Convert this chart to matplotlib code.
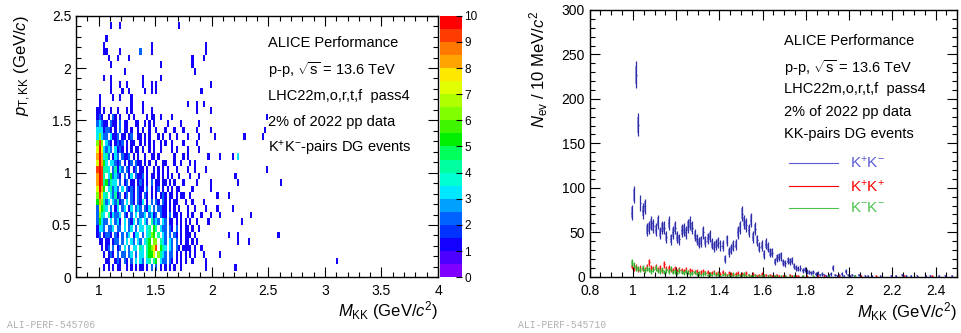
import numpy as np
import matplotlib
matplotlib.use('Agg')
import matplotlib.pyplot as plt
from matplotlib.colors import ListedColormap, BoundaryNorm
from matplotlib.ticker import MultipleLocator, FuncFormatter

plt.rcParams['font.family'] = ['Liberation Sans', 'DejaVu Sans']
plt.rcParams['mathtext.fontset'] = 'custom'
plt.rcParams['mathtext.rm'] = 'Liberation Sans'
plt.rcParams['mathtext.it'] = 'Liberation Sans:italic'
plt.rcParams['mathtext.bf'] = 'Liberation Sans:bold'

# ---- left panel: pT vs M counts, 0.02 GeV x 0.0625 GeV cells ----
# one string per pT row, top row first; columns start at M = 0.98 (groups of 10)
# '.' empty, digits = counts, 'a' = 10
pt_rows = [
    "",
    "......1... 1......... .......... ......1...",
    "",
    "....1.....",
    "...1...... .......... ....1..... .......... ........1...",
    "...11..... 1........2 ....1..... .......... ........1...",
    ".....1...1 ....1..... .......... .......... ..1....1....",
    "......1... .......... ........1. .......... ..1.........",
    ".......... ..1....... .......... .......... ...1........",
    "...1..1... .......... 1.......1.",
    "......1... 1..1...... 1...1.1... .......... ..........1.",
    "......1... .1..1..... .1..1.1... .......... ......1.....",
    ".1.....1.. 1....1....",
    ".1........ .....1.... 1......... .......... 1...1..1....",
    "11.1..1..1 ...1.1.... 1...1..... .......... ....1.....1.",
    "121..1.21. 1...1.1... ..1.11..1. ...1......",
    "23211.211. 2.11...11. .1.1.1.... .1.....1.. .....1......",
    "3331221.1. 2.11.1..1. 1..1..1... 1...1...1. ....1.....1.",
    "36322.3112 .11.12..11 .1.1...1.1 ..1..1.... 1....1......",
    "696.321.12 12.1.11..1 .1.1.1..1. 1..1....1. ....1.......",
    "7a73232.31 21.1.1.11. 1..1.1..1. ...1.1.... 1....1......",
    "8a8342.132 .2112.1.1. .1..11.1.. ....1...1. 1........1..",
    "7a853.3321 2.1.12.211 .1.1..1..1 1...1..1.. .1.1........",
    "9a9443.241 32.21.12.1 1.1..1.1.1 .1...1.... 1..1....1...",
    "8a94.35232 1.2.13.211 2.1.11.1.1 .1.1..1... .1...1......",
    "8a9452433. 2.12.11.12 1.1.2.11.1 1.1.1...1. ....1.....1.",
    "7a85.34232 .3.2121.21 1.2.1.12.1 .1.1.11... ..1.......1.",
    "69734.3241 2.12.21.21 .21.1.1.12 1.11.1.11. .1..........",
    "586423.324 12.3.21.21 3.1.2.21.2 1.1.11...1 ..1....1....",
    "27543.2.13 .23.13.232 .213.2.221 1.1.1.1... 1..1....1...",
    "2643.41322 3.21.2.3.2 23.2312.21 1.2.11.1.. 1.1...1...1.",
    "25322.3.23 1.3.213.23 .32.4232.3 2.11.1.1.1 .1..1....1..",
    "1332.223.2 2.3.23.2.3 3.34.54.32 2.21.2.1.1 1.1..1......",
    "12.1221.21 .2.23.133. 2.3465.4.3 2.2.21.1.1 11.1........",
    ".11.11.122 .2.3.32.32 .345.66.43 2.32.2.1.1 1.1.1.......",
    "..1.12.2.1 2.3.2.33.4 3.45679.54 3.32.21.11 11.1..1.....",
    "...1.121.2 .22.23.2.3 3.4557.643 2.22.1.1.1 .1.1...1....",
    "....11..12 1.21.2.3.3 2.34.45.32 2.21.1.1.1 ..1.....1...",
    "...1.1.1.1 1..1.1.1.1 1.1.2.2.1. 1.1.1..1.. ........1...",
    "",
]

# isolated cells at large mass
outlier_mass = [2.07, 2.19, 2.23, 2.49, 2.21, 2.23, 2.61, 2.05, 2.15, 2.05,
                2.07, 2.19, 2.35, 2.27, 2.15, 2.23, 2.23, 2.59, 2.33, 2.07,
                3.11, 2.21, 2.49, 2.47, 2.45, 2.29, 2.03]
outlier_pt = [1.16, 1.16, 1.16, 1.03, 0.97, 0.91, 0.91, 0.78, 0.78, 0.66,
              0.59, 0.66, 0.59, 0.53, 0.41, 0.41, 0.34, 0.41, 0.34, 0.22,
              0.16, 0.09, 1.53, 1.41, 1.34, 1.34, 1.34]
outlier_counts = [1, 1, 3, 1, 1, 1, 1, 1, 1, 1,
                  1, 1, 1, 1, 1, 1, 1, 1, 1, 1,
                  1, 1, 1, 1, 1, 1, 1]

# ---- right panel: counts per 10 MeV bin, bins start at 0.99 GeV ----
kpkm = [72, 92, 227, 171, 83, 74, 79, 53, 55, 60,
        57, 53, 62, 49, 55, 55, 45, 60, 42, 50,
        55, 45, 42, 52, 53, 50, 57, 60, 55, 47,
        42, 38, 40, 50, 40, 43, 46, 37, 34, 36,
        38, 35, 35, 20, 41, 28, 31, 35, 36, 50,
        55, 71, 62, 58, 52, 64, 45, 54, 41, 33,
        35, 25, 37, 33, 27, 27, 17, 21, 22, 23,
        16, 15, 18, 17, 18, 12, 10, 9, 10, 7,
        8, 6, 5, 4, 5, 3, 4, 2, 3, 2,
        1, 2, 3, 10, 2, 1, 2, 3, 1, 6,
        2, 1, 2, 1, 0, 2, 1, 0, 1, 1,
        0, 1, 0, 0, 0, 1, 0, 0, 0, 0,
        1, 0, 1, 0, 0, 2, 0, 1, 0, 1,
        0, 0, 1, 0, 0, 0, 1, 0, 1, 0,
        0, 0, 1, 0, 0, 1, 0, 0, 1, 0, 0]
kpkp = [12, 9, 11, 8, 10, 9, 8, 11, 16, 10,
        9, 11, 8, 10, 7, 14, 9, 10, 8, 7,
        9, 6, 8, 7, 6, 8, 5, 7, 6, 5,
        6, 4, 5, 6, 4, 5, 3, 4, 5, 3,
        4, 3, 5, 3, 2, 4, 3, 2, 3, 4,
        2, 3, 2, 4, 2, 1, 3, 2, 1, 2,
        3, 1, 2, 1, 2, 1, 1, 2, 1, 0,
        1, 1, 0, 2, 1, 0, 1, 1, 0, 1,
        0, 1, 0, 0, 0, 0, 1, 0, 0, 1,
        0, 0, 0, 0, 0, 0, 1, 0, 0, 0,
        0, 0, 0, 0, 0, 0, 1, 0, 0, 0,
        0, 0, 0, 1, 0, 0, 0, 0, 0, 0,
        0, 0, 0, 0, 0, 0, 1, 0, 0, 0,
        0, 0, 0, 0, 0, 0, 0, 0, 0, 1,
        0, 0, 0, 0, 0, 0, 0, 0, 0, 0, 0]
kmkm = [16, 13, 10, 9, 8, 10, 7, 9, 8, 6,
        8, 10, 7, 6, 8, 5, 7, 6, 9, 5,
        6, 4, 7, 5, 4, 6, 5, 3, 4, 5,
        3, 4, 2, 3, 4, 2, 3, 2, 4, 2,
        3, 1, 2, 3, 1, 2, 1, 3, 1, 2,
        1, 2, 3, 1, 2, 1, 1, 2, 0, 1,
        1, 2, 0, 1, 1, 0, 1, 1, 0, 1,
        0, 1, 0, 1, 0, 1, 0, 0, 0, 1,
        0, 0, 0, 0, 1, 0, 0, 0, 0, 0,
        0, 1, 0, 0, 0, 0, 0, 0, 0, 0,
        0, 0, 0, 1, 0, 0, 0, 0, 0, 0,
        0, 0, 0, 0, 0, 0, 0, 0, 0, 0,
        0, 0, 0, 0, 0, 0, 0, 0, 0, 0,
        0, 0, 0, 0, 0, 0, 0, 0, 0, 0,
        0, 0, 0, 0, 0, 0, 0, 0, 0, 0, 0]

info_left = ["ALICE Performance", r"p-p, $\sqrt{\mathrm{s}}$ = 13.6 TeV",
             "LHC22m,o,r,t,f  pass4", "2% of 2022 pp data",
             r"K$^{+}$K$^{-}$-pairs DG events"]
info_right = ["ALICE Performance", r"p-p, $\sqrt{\mathrm{s}}$ = 13.6 TeV",
              "LHC22m,o,r,t,f  pass4", "2% of 2022 pp data",
              "KK-pairs DG events"]

# ROOT-like rainbow palette, 20 levels over 0..10
palette = ['#7f00ff', '#4c00ff', '#1400ff', '#0033ff', '#0062ff',
           '#00a0ff', '#00e8ff', '#00ffd2', '#00ffa0', '#00ff5a',
           '#00ee00', '#40f500', '#80ff00', '#b0ff00', '#e0ff00',
           '#ffe800', '#ffa400', '#ff7800', '#ff3c00', '#ff0000']
cmap = ListedColormap(palette)
norm = BoundaryNorm(np.linspace(0, 10, 21), cmap.N)


def fmt_g(v, pos):
    return '%g' % round(v, 3)


def style_axes(ax):
    ax.tick_params(which='both', direction='in', top=True, right=True,
                   labelsize=10, width=0.8)
    ax.tick_params(which='major', length=7)
    ax.tick_params(which='minor', length=3.5)
    ax.tick_params(axis='x', pad=5)
    ax.tick_params(axis='y', pad=3.5)
    ax.xaxis.set_major_formatter(FuncFormatter(fmt_g))
    ax.yaxis.set_major_formatter(FuncFormatter(fmt_g))
    for s in ax.spines.values():
        s.set_linewidth(1.0)


fig = plt.figure(figsize=(9.61, 3.33), dpi=100)

# ---------- left panel ----------
ax1 = fig.add_axes([0.0791, 0.1673, 0.3767, 0.7856])
mass_edges = 0.98 + 0.02 * np.arange(108)
pt_edges = 0.0625 * np.arange(41)

grid = np.zeros((len(pt_edges) - 1, len(mass_edges) - 1))
for i, row in enumerate(pt_rows[::-1]):
    cells = row.replace(' ', '').ljust(52, '.')[:52]
    for j, ch in enumerate(cells):
        if ch != '.':
            grid[i, j] = 10 if ch == 'a' else int(ch)
extra, _, _ = np.histogram2d(outlier_pt, outlier_mass, bins=[pt_edges, mass_edges],
                             weights=outlier_counts)
grid += extra
mesh = ax1.pcolormesh(mass_edges, pt_edges, np.ma.masked_equal(grid, 0),
                      cmap=cmap, norm=norm, edgecolors='none', antialiased=False)
ax1.set_xlim(0.8, 4.0)
ax1.set_ylim(0, 2.5)
ax1.xaxis.set_major_locator(MultipleLocator(0.5))
ax1.xaxis.set_minor_locator(MultipleLocator(0.1))
ax1.yaxis.set_major_locator(MultipleLocator(0.5))
ax1.yaxis.set_minor_locator(MultipleLocator(0.1))
style_axes(ax1)
ax1.set_xlabel(r'$M_{\mathrm{KK}}$ (GeV/$c^{2}$)', fontsize=12, ha='right')
ax1.xaxis.set_label_coords(1.0, -0.085)
ax1.set_ylabel(r'$p_{\mathrm{T,KK}}$ (GeV/$c$)', fontsize=12, ha='right')
ax1.yaxis.set_label_coords(-0.12, 1.0)
for k, t in enumerate(info_left):
    ax1.text(0.530, [0.896, 0.793, 0.693, 0.594, 0.494][k], t, transform=ax1.transAxes,
             fontsize=10.5, va='center', ha='left')

cax = fig.add_axes([0.4579, 0.1673, 0.0226, 0.7856])
cb = fig.colorbar(mesh, cax=cax, ticks=np.arange(0, 11, 1))
cb.outline.set_visible(False)
cax.tick_params(labelsize=8.5, direction='in', length=4, width=0.8, pad=2)
cax.yaxis.set_minor_locator(plt.NullLocator())

# ---------- right panel ----------
ax2 = fig.add_axes([0.6136, 0.1691, 0.3825, 0.8009])
bin_lo = 0.99 + 0.01 * np.arange(len(kpkm))
centers = bin_lo + 0.005


def draw_series(ax, counts, line_color, box_color):
    n = np.asarray(counts, dtype=float)
    keep = n > 0
    x = centers[keep]
    y = n[keep]
    err = np.sqrt(y)
    ax.bar(x, 1.4 * err, width=0.009, bottom=y - 0.7 * err, color=box_color,
           linewidth=0)
    ax.errorbar(x, y, yerr=err, xerr=0.002, fmt='none', ecolor=line_color,
                elinewidth=0.9)


draw_series(ax2, kpkm, '#2e2ea8', '#9a9ae0')
draw_series(ax2, kpkp, '#ff1010', '#ffaaaa')
draw_series(ax2, kmkm, '#2cb42c', '#a0e0a0')

ax2.set_xlim(0.8, 2.5)
ax2.set_ylim(0, 300)
ax2.xaxis.set_major_locator(MultipleLocator(0.2))
ax2.xaxis.set_minor_locator(MultipleLocator(0.05))
ax2.yaxis.set_major_locator(MultipleLocator(50))
ax2.yaxis.set_minor_locator(MultipleLocator(10))
style_axes(ax2)
ax2.set_xlabel(r'$M_{\mathrm{KK}}$ (GeV/$c^{2}$)', fontsize=12, ha='right')
ax2.xaxis.set_label_coords(1.0, -0.087)
ax2.set_ylabel(r'$N_{\mathrm{ev}}$ / 10 MeV/$c^{2}$', fontsize=12, ha='right')
ax2.yaxis.set_label_coords(-0.108, 1.0)
for k, t in enumerate(info_right):
    ax2.text(0.529, [0.884, 0.784, 0.702, 0.618, 0.535][k], t, transform=ax2.transAxes,
             fontsize=10.5, va='center', ha='left')

legend_items = [(r'K$^{+}$K$^{-}$', '#5a5ad8', 0.426),
                (r'K$^{+}$K$^{+}$', '#ff0000', 0.339),
                (r'K$^{-}$K$^{-}$', '#4cc44c', 0.257)]
for label, col, yy in legend_items:
    ax2.plot([0.542, 0.676], [yy, yy], transform=ax2.transAxes, color=col, lw=0.8)
    ax2.text(0.709, yy, label, transform=ax2.transAxes, color=col, fontsize=11,
             va='center', ha='left')

fig.text(7 / 961, 1 - 325 / 333, 'ALI-PERF-545706', fontsize=7, color='#b0b0b0',
         family='Liberation Mono', va='center', ha='left')
fig.text(518 / 961, 1 - 325 / 333, 'ALI-PERF-545710', fontsize=7, color='#b0b0b0',
         family='Liberation Mono', va='center', ha='left')

fig.savefig('out.png', dpi=100)
